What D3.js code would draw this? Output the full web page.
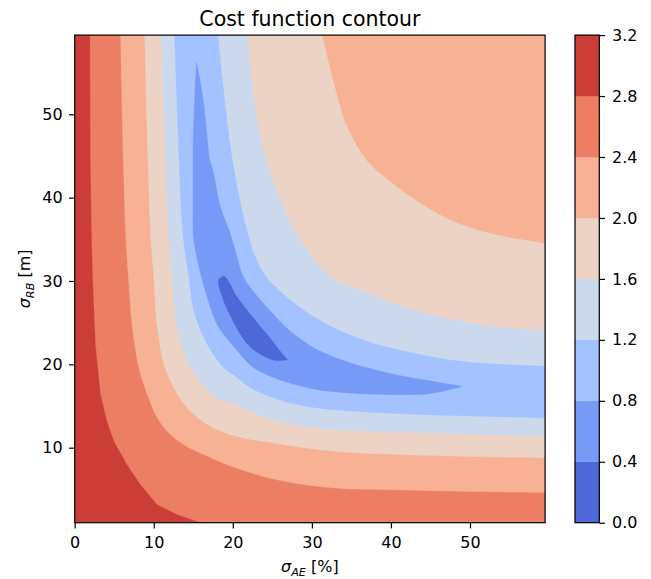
<!DOCTYPE html>
<html>
<head>
<meta charset="utf-8">
<script src="https://cdn.jsdelivr.net/npm/d3@7"></script>
<style>
  body { margin: 0; background: #fff; }
  svg { display: block; }
  text { font-family: "DejaVu Sans", sans-serif; fill: #000; }
</style>
</head>
<body>
<svg id="chart" width="651" height="579"></svg>
<script>
// ---- data -------------------------------------------------------------
// contour levels of the cost function and the colour of each band
const levels = [0.0, 0.4, 0.8, 1.2, 1.6, 2.0, 2.4, 2.8, 3.2];
const bandColors = ["#4e68d7", "#779af7", "#a3c2ff", "#ccd9ed",
                    "#ecd3c5", "#f7b194", "#ec7f63", "#cb3e38"];
const xDomain = [0, 59.5];   // sigma_AE [%]
const yDomain = [1, 59.5];   // sigma_RB [m]
const xTicks = [0, 10, 20, 30, 40, 50];
const yTicks = [10, 20, 30, 40, 50];

// iso-lines as [sigma_AE, sigma_RB] vertices
const iso28 = [[1.94,59.5],[2.0,44.8],[2.15,35.6],[2.3,30.3],[2.65,22.35],[3.3,16.35],
  [4.1,13.2],[4.97,10.8],[6.65,7.96],[8.35,5.56],[10.45,3.17],[13.0,1.97],[16.0,1.0]];
const iso24 = [[5.8,59.5],[6.15,44.8],[6.45,35.6],[6.8,30.3],[7.3,24.35],[8.13,19.56],
  [9.2,16.35],[10.24,13.96],[11.7,11.97],[13.8,10.36],[16.8,8.97],[20.3,7.6],
  [26.5,5.97],[32.8,5.17],[40.6,4.95],[50,4.75],[59.5,4.6]];
const iso20Low = [[8.85,59.5],[9.27,44.8],[9.6,35.6],[10.0,30.35],[10.45,24.35],[11.3,19.95],
  [12.56,17.16],[14.25,14.76],[16.8,12.76],[20.3,11.4],[26.5,10.36],[32.8,9.57],
  [40.5,9.2],[50,8.95],[59.5,8.8]];
const iso20High = [[31.3,59.5],[32.8,53.6],[34.5,48.4],[37.0,44.4],[40.5,41.5],
  [44.6,38.8],[48.8,36.8],[53.0,35.6],[59.5,34.5]];
const iso16Low = [[10.96,59.5],[11.5,44.8],[11.85,35.6],[12.3,30.35],[12.98,24.35],
  [14.24,20.36],[15.94,17.96],[18.04,15.96],[20.3,15.2],[24.4,13.56],[30.7,12.36],
  [40.5,11.9],[50,11.6],[59.5,11.37]];
const iso16High = [[21.8,59.5],[22.7,51.6],[23.9,45.6],[26.05,39.6],[28.6,34.8],
  [32.5,30.35],[37.0,28.6],[40.5,27.2],[46.7,25.55],[53.0,24.55],[59.5,24.03]];
const iso12Low = [[12.65,59.5],[13.2,44.8],[13.7,35.6],[14.46,30.35],[15.1,26.35],
  [16.8,22.35],[18.9,19.56],[20.3,18.6],[22.3,17.16],[26.5,15.56],[30.7,14.76],
  [40.5,14.1],[50,13.8],[59.5,13.56]];
const iso12High = [[18.1,59.5],[18.8,53],[19.7,46],[20.6,41],[21.8,36],[22.8,33],
  [24.4,30.3],[28.6,26.75],[32.8,24.35],[37.0,22.75],[40.5,21.85],[48.8,20.36],[59.5,19.76]];
// closed valley of the 0.8 level: outer side, then inner side
const iso08Outer = [[15.4,56.2],[15.1,50],[14.96,44.8],[14.98,40],[15.0,35.6],[15.5,32.6],
  [16.1,30.3],[16.8,27.95],[18.04,24.75],[20.3,21.95],[22.7,19.55],[26.5,17.96],
  [30.7,16.96],[34.9,16.56],[40.6,16.36],[45,16.5],[49.0,17.36]];
const iso08Inner = [[49.0,17.36],[45,18.0],[40.6,18.75],[34.9,20.15],[30.7,21.75],
  [27.3,23.95],[24.4,26.75],[21.4,30.35],[20.5,33],[19.7,35.6],[18.4,39],[17.5,43.2],
  [17.05,44.6],[16.8,46.9],[16.1,52.7],[15.4,56.2]];
// minimum pocket below 0.4
const iso04Outer = [[18.9,30.6],[18.2,30.1],[18.7,28.0],[19.6,26.0],[20.3,24.7],[21.8,22.5],
  [23.0,21.5],[24.4,20.75],[25.5,20.45],[26.9,20.55]];
const iso04Inner = [[26.9,20.55],[25.8,21.8],[24.5,23.4],[22.4,25.8],[20.4,28.3],
  [19.3,30.2],[18.9,30.6]];

// ---- layout -----------------------------------------------------------
const svg = d3.select("#chart");
const plot = { left: 74.7, right: 545.1, top: 35.1, bottom: 522.7 };
const bar = { left: 575, right: 599.3 };
const x = d3.scaleLinear().domain(xDomain).range([plot.left, plot.right]);
const y = d3.scaleLinear().domain(yDomain).range([plot.bottom, plot.top]);
const c = d3.scaleLinear().domain([levels[0], levels[levels.length - 1]])
            .range([plot.bottom, plot.top]);

svg.append("defs").append("clipPath").attr("id", "plotClip")
  .append("rect")
  .attr("x", plot.left).attr("y", plot.top)
  .attr("width", plot.right - plot.left).attr("height", plot.bottom - plot.top);

const [x0, x1] = xDomain, [y0, y1] = yDomain;
const smooth = d3.curveCatmullRom.alpha(0.5);
function piece(pts, curve) {
  return d3.line().x(d => x(d[0])).y(d => y(d[1])).curve(curve)(pts);
}
function region(parts) {
  return parts.map((p, i) => {
    const s = piece(p[0], p[1]);
    return i ? s.replace(/^M/, "L") : s;
  }).join("") + "Z";
}

// filled bands, painted from the highest band downwards
const bands = [
  { level: 2.8, parts: [[iso28, d3.curveLinear], [[[x1, y0], [x1, y1]], d3.curveLinear]] },
  { level: 2.4, parts: [[iso24, smooth], [[[x1, y1]], d3.curveLinear]] },
  { level: 2.0, parts: [[iso20Low, smooth], [iso20High.slice().reverse(), smooth]] },
  { level: 1.6, parts: [[iso16Low, smooth], [iso16High.slice().reverse(), smooth]] },
  { level: 1.2, parts: [[iso12Low, smooth], [iso12High.slice().reverse(), smooth]] },
  { level: 0.8, parts: [[iso08Outer, smooth], [iso08Inner, smooth]] },
  { level: 0.4, parts: [[iso04Outer, smooth], [iso04Inner, smooth]] }
];

const g = svg.append("g").attr("clip-path", "url(#plotClip)");
g.append("rect")
  .attr("x", x(x0)).attr("y", y(y1))
  .attr("width", x(x1) - x(x0)).attr("height", y(y0) - y(y1))
  .attr("fill", bandColors[bandColors.length - 1]);
g.selectAll("path.band").data(bands).join("path")
  .attr("class", "band")
  .attr("d", d => region(d.parts))
  .attr("fill", d => bandColors[levels.indexOf(d.level) - 1])
  .attr("stroke", d => bandColors[levels.indexOf(d.level) - 1])
  .attr("stroke-width", 0.4);

// frame
svg.append("rect")
  .attr("x", plot.left).attr("y", plot.top)
  .attr("width", plot.right - plot.left).attr("height", plot.bottom - plot.top)
  .attr("fill", "none").attr("stroke", "#000").attr("stroke-width", 1.2);

// axes
const fs = 16;
const xAxis = svg.append("g").attr("transform", `translate(0,${plot.bottom})`)
  .call(d3.axisBottom(x).tickValues(xTicks).tickFormat(d3.format("d"))
        .tickSize(5.7).tickSizeOuter(0).tickPadding(8));
const yAxis = svg.append("g").attr("transform", `translate(${plot.left},0)`)
  .call(d3.axisLeft(y).tickValues(yTicks).tickFormat(d3.format("d"))
        .tickSize(5.7).tickSizeOuter(0).tickPadding(6.3));
[xAxis, yAxis].forEach(a => {
  a.select(".domain").remove();
  a.selectAll(".tick line").attr("stroke", "#000").attr("stroke-width", 1.2);
  a.selectAll(".tick text").attr("font-size", fs).attr("font-family", "DejaVu Sans");
});

// title
svg.append("text").attr("x", (plot.left + plot.right) / 2).attr("y", 25.5)
  .attr("text-anchor", "middle").attr("font-size", 20.5)
  .text("Cost function contour");

// axis labels with subscripts
const xl = svg.append("text").attr("x", (plot.left + plot.right) / 2).attr("y", 572)
  .attr("text-anchor", "middle").attr("font-size", fs);
xl.append("tspan").attr("font-style", "italic").text("σ");
xl.append("tspan").attr("font-style", "italic").attr("font-size", fs * 0.7).attr("dy", 3.6).text("AE");
xl.append("tspan").attr("dy", -3.6).text(" [%]");

const yl = svg.append("text")
  .attr("transform", `translate(30,${(plot.top + plot.bottom) / 2}) rotate(-90)`)
  .attr("text-anchor", "middle").attr("font-size", fs);
yl.append("tspan").attr("font-style", "italic").text("σ");
yl.append("tspan").attr("font-style", "italic").attr("font-size", fs * 0.7).attr("dy", 3.6).text("RB");
yl.append("tspan").attr("dy", -3.6).text(" [m]");

// colour bar
const cb = svg.append("g");
cb.selectAll("rect.seg").data(d3.pairs(levels)).join("rect")
  .attr("class", "seg")
  .attr("x", bar.left).attr("width", bar.right - bar.left)
  .attr("y", d => c(d[1])).attr("height", d => c(d[0]) - c(d[1]))
  .attr("fill", (d, i) => bandColors[i])
  .attr("stroke", (d, i) => bandColors[i]).attr("stroke-width", 0.3);
cb.append("rect")
  .attr("x", bar.left).attr("y", plot.top)
  .attr("width", bar.right - bar.left).attr("height", plot.bottom - plot.top)
  .attr("fill", "none").attr("stroke", "#000").attr("stroke-width", 1.2);
const cAxis = svg.append("g").attr("transform", `translate(${bar.right},0)`)
  .call(d3.axisRight(c).tickValues(levels).tickFormat(d3.format(".1f"))
        .tickSize(5.7).tickSizeOuter(0).tickPadding(7));
cAxis.select(".domain").remove();
cAxis.selectAll(".tick line").attr("stroke", "#000").attr("stroke-width", 1.2);
cAxis.selectAll(".tick text").attr("font-size", fs).attr("font-family", "DejaVu Sans");
</script>
</body>
</html>
